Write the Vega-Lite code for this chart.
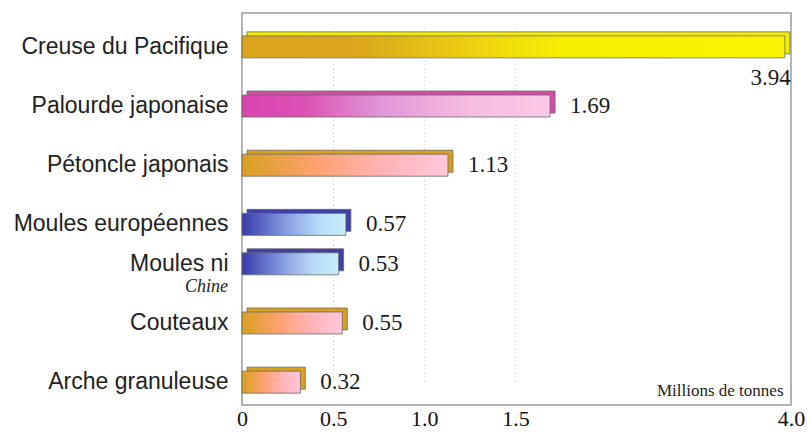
{
  "$schema": "https://vega.github.io/schema/vega-lite/v6.json",
  "width": 549,
  "height": 392,
  "autosize": "none",
  "padding": {"left": 242, "top": 13, "right": 19, "bottom": 29},
  "background": "white",
  "config": {
    "view": {"stroke": "#9a9a9a", "strokeWidth": 1.5}
  },
  "data": {
    "values": [
      {"name": "Creuse du Pacifique", "value": 3.94, "group": "jaune", "note": null},
      {"name": "Palourde japonaise", "value": 1.69, "group": "rose", "note": null},
      {"name": "Pétoncle japonais", "value": 1.13, "group": "orange", "note": null},
      {"name": "Moules européennes", "value": 0.57, "group": "bleu", "note": null},
      {"name": "Moules ni", "value": 0.53, "group": "bleu", "note": "Chine"},
      {"name": "Couteaux", "value": 0.55, "group": "orange", "note": null},
      {"name": "Arche granuleuse", "value": 0.32, "group": "orange", "note": null}
    ]
  },
  "encoding": {
    "y": {
      "field": "name",
      "type": "nominal",
      "scale": {
        "domain": ["Creuse du Pacifique", "_1", "_2", "Palourde japonaise", "_3", "_4", "Pétoncle japonais", "_5", "_6", "Moules européennes", "_7", "Moules ni", "_8", "_9", "Couteaux", "_10", "_11", "Arche granuleuse"],
        "range": [24, 379],
        "paddingInner": 0,
        "paddingOuter": 0
      },
      "axis": {
        "title": null,
        "domain": false,
        "ticks": false,
        "grid": false,
        "labelExpr": "slice(datum.label, 0, 1) == '_' ? '' : datum.label",
        "labelFont": "Liberation Sans",
        "labelFontSize": 23,
        "labelColor": "#222222",
        "labelPadding": 14,
        "labelLimit": 300
      }
    }
  },
  "layer": [
    {
      "mark": {"type": "bar", "height": 22, "yOffset": -4, "xOffset": 5, "x2Offset": 5, "stroke": "#6a6a6a", "strokeWidth": 0.8},
      "encoding": {
        "x": {
          "field": "value",
          "type": "quantitative",
          "scale": {"domain": [0, 1.75, 4], "range": [0, 319, 549], "nice": false},
          "axis": {
            "values": [0, 0.5, 1, 1.5, 4],
            "labelExpr": "datum.value == 0 ? '0' : format(datum.value, '.1f')",
            "domain": false,
            "ticks": false,
            "grid": true,
            "gridColor": "#c4c4c4",
            "gridDash": [1, 3],
            "gridWidth": 1,
            "labelFont": "Liberation Serif",
            "labelFontSize": 22,
            "labelColor": "#111111",
            "labelPadding": 3,
            "labelFlush": false,
            "labelOverlap": false,
            "title": "Millions de tonnes",
            "titleFont": "Liberation Serif",
            "titleFontSize": 17,
            "titleFontWeight": "normal",
            "titleColor": "#222222",
            "titleAnchor": "end",
            "titleAlign": "right",
            "titleBaseline": "alphabetic",
            "titleX": 541,
            "titleY": -10
          }
        },
        "color": {
          "field": "group",
          "type": "nominal",
          "scale": {"domain": ["jaune", "rose", "orange", "bleu"], "range": ["#F4EC00", "#D84AAA", "#D9A020", "#3F3FAA"]},
          "legend": null
        }
      }
    },
    {
      "mark": {"type": "bar", "height": 22, "stroke": "#6a6a6a", "strokeWidth": 0.8},
      "encoding": {
        "x": {"field": "value", "type": "quantitative"},
        "color": {
          "condition": [
            {"test": "datum.group == 'jaune'", "value": {"gradient": "linear", "x1": 0, "x2": 1, "y1": 0, "y2": 0, "stops": [{"offset": 0, "color": "#DAA41C"}, {"offset": 0.22, "color": "#DCA81C"}, {"offset": 0.45, "color": "#EED60E"}, {"offset": 0.6, "color": "#F6F000"}, {"offset": 1, "color": "#FAF400"}]}},
            {"test": "datum.group == 'rose'", "value": {"gradient": "linear", "x1": 0, "x2": 1, "y1": 0, "y2": 0, "stops": [{"offset": 0, "color": "#DA44B0"}, {"offset": 0.2, "color": "#DC50B4"}, {"offset": 0.45, "color": "#E096D8"}, {"offset": 0.75, "color": "#F6BEE0"}, {"offset": 1, "color": "#FAC8E4"}]}},
            {"test": "datum.group == 'bleu'", "value": {"gradient": "linear", "x1": 0, "x2": 1, "y1": 0, "y2": 0, "stops": [{"offset": 0, "color": "#3A3AA8"}, {"offset": 0.25, "color": "#6474CC"}, {"offset": 0.5, "color": "#94AEE8"}, {"offset": 0.75, "color": "#BADDF8"}, {"offset": 1, "color": "#C8ECFA"}]}}
          ],
          "value": {"gradient": "linear", "x1": 0, "x2": 1, "y1": 0, "y2": 0, "stops": [{"offset": 0, "color": "#D9A020"}, {"offset": 0.15, "color": "#E8A040"}, {"offset": 0.38, "color": "#FFA274"}, {"offset": 0.7, "color": "#FFB4B8"}, {"offset": 1, "color": "#FFC8DC"}]}
        }
      }
    },
    {
      "transform": [{"filter": "datum.value < 3"}],
      "mark": {"type": "text", "align": "left", "baseline": "middle", "dx": 20, "font": "Liberation Serif", "fontSize": 23, "color": "#1a1a1a"},
      "encoding": {
        "x": {"field": "value", "type": "quantitative"},
        "text": {"field": "value", "type": "quantitative", "format": ".2f"}
      }
    },
    {
      "transform": [{"filter": "datum.value >= 3"}],
      "mark": {"type": "text", "align": "right", "baseline": "middle", "dx": 6, "dy": 31, "font": "Liberation Serif", "fontSize": 23, "color": "#1a1a1a"},
      "encoding": {
        "x": {"field": "value", "type": "quantitative"},
        "text": {"field": "value", "type": "quantitative", "format": ".2f"}
      }
    },
    {
      "transform": [{"filter": "datum.note != null"}],
      "mark": {"type": "text", "align": "right", "baseline": "middle", "dx": -14, "dy": 23, "font": "Liberation Serif", "fontStyle": "italic", "fontSize": 18, "color": "#222222"},
      "encoding": {
        "x": {"datum": 0},
        "text": {"field": "note"}
      }
    }
  ]
}
